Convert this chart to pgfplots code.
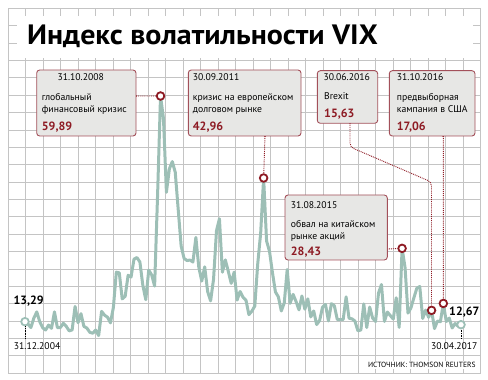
\documentclass[border=0pt]{standalone}
\usepackage{pgfplots}
\pgfplotsset{compat=1.18}
\usepackage{fontspec}
\setmainfont{PT Sans}
\definecolor{vix}{HTML}{9DBFB6}
\definecolor{dred}{HTML}{8E1B24}
\definecolor{bord}{HTML}{A3505A}
\definecolor{boxfill}{HTML}{E7E7E5}
\definecolor{gridc}{HTML}{C4C4C4}
\begin{document}
\begin{tikzpicture}[x=1pt,y=1pt]
\useasboundingbox (-8.3,-6.7) rectangle (479.7,373.3);
\begin{axis}[
  at={(0,0)}, anchor=south west,
  scale only axis, width=472.4pt, height=365pt,
  xmin=-5.669, xmax=154.684, ymin=2.635, ymax=77.998,
  xtick={-5.669,0.270,6.209,12.148,18.087,24.026,29.965,35.904,41.843,47.782,53.721,59.660,65.599,71.538,77.477,83.416,89.355,95.294,101.233,107.172,113.111,119.050,124.989,130.928,136.867,142.806,148.745,154.684},
  ytick={2.635,6.224,9.812,13.401,16.990,20.579,24.167,27.756,31.345,34.933,38.522,42.111,45.699,49.288,52.877,56.466,60.054,63.643,67.232,70.820,74.409,77.998},
  xticklabels={}, yticklabels={},
  major tick length=0pt,
  grid=major, major grid style={gridc, line width=0.9pt},
  axis line style={gridc, line width=0.9pt},
  clip=false,
]
\addplot[vix, line width=3pt, line join=round] table {
x y
0 13.29
1 12.82
2 12.08
3 14.02
4 15.31
5 13.29
6 12.04
7 11.57
8 12.60
9 11.92
10 15.32
11 12.06
12 12.07
13 12.95
14 12.34
15 11.39
16 11.59
17 16.44
18 13.08
19 14.95
20 12.31
21 11.98
22 11.10
23 10.91
24 11.56
25 10.42
26 15.42
27 14.64
28 14.22
29 13.05
30 16.23
31 23.52
32 23.38
33 18.00
34 18.53
35 22.87
36 22.50
37 26.20
38 26.54
39 25.61
40 20.79
41 17.83
42 23.95
43 22.94
44 20.65
45 39.39
46 59.89
47 55.28
48 40.00
49 44.84
50 46.35
51 44.14
52 36.50
53 28.92
54 26.35
55 25.92
56 26.01
57 25.61
58 30.69
59 24.51
60 21.68
61 24.62
62 19.50
63 17.59
64 22.05
65 32.07
66 34.54
67 23.50
68 26.05
69 23.70
70 21.20
71 23.54
72 17.75
73 19.53
74 18.35
75 17.74
76 14.75
77 15.45
78 16.52
79 25.25
80 31.62
81 42.96
82 29.96
83 27.80
84 23.40
85 19.44
86 18.43
87 15.50
88 17.15
89 24.06
90 17.08
91 18.93
92 17.47
93 15.73
94 18.60
95 15.87
96 18.02
97 14.28
98 15.51
99 12.70
100 13.52
101 16.30
102 16.86
103 13.45
104 17.01
105 16.60
106 13.75
107 13.70
108 13.72
109 18.41
110 14.00
111 13.88
112 13.41
113 11.40
114 11.57
115 16.95
116 12.09
117 16.31
118 14.03
119 13.33
120 19.20
121 20.97
122 13.34
123 15.29
124 14.55
125 13.84
126 18.23
127 12.12
128 28.43
129 24.50
130 15.07
131 16.13
132 18.21
133 20.20
134 20.55
135 13.95
136 15.70
137 14.19
138 15.63
139 11.87
140 13.42
141 13.29
142 17.06
143 13.33
144 14.04
145 11.99
146 12.92
147 12.37
148 12.67
};
\addplot[only marks, mark=*, mark size=3.8pt, mark options={draw=dred, fill=white, line width=1.8pt}] coordinates {(46,59.89) (81,42.96) (128,28.43) (138,15.63) (142,17.06)};
\addplot[only marks, mark=*, mark size=3.8pt, mark options={draw=vix, fill=white, line width=1.8pt}] coordinates {(0,13.29) (148,12.67)};
\coordinate (c1) at (axis cs:46,59.89);
\coordinate (c2) at (axis cs:81,42.96);
\coordinate (c5) at (axis cs:128,28.43);
\coordinate (c3) at (axis cs:138,15.63);
\coordinate (c4) at (axis cs:142,17.06);
\end{axis}
\begin{scope}[shift={(-8.3,373.3)}, x=1pt, y=-1pt, every node/.style={inner sep=0pt}]
% title
\fill[white] (17,16) rectangle (473,58);
\node[anchor=west, font=\fontsize{28}{28}\selectfont\bfseries] at (27,36) {\scalebox{1.07}[1]{Индекс волатильности VIX}};
% connectors
\draw[dred, line width=0.9pt, densely dotted, shorten >=4.7pt] (136,96) -- (c1);
\draw[dred, line width=0.9pt, densely dotted, shorten >=4.7pt] (265,136) -- (c2);
\draw[dred, line width=0.9pt, densely dotted, shorten >=4.7pt] (387.3,249) -- (c5);
\draw[dred, line width=0.9pt, densely dotted, rounded corners=4pt] (350,123.3) -- (350,147) -- (431.5,182) -- (431.5,305.5);
\draw[dred, line width=0.9pt, densely dotted, shorten >=4.7pt] (443.3,136) -- (c4);
\fill[dred] (136,96) circle (1.1) (265,136) circle (1.1) (387.3,249) circle (1.1) (350,123.3) circle (1.1) (443.3,136) circle (1.1);
% box 1
\draw[bord, fill=boxfill, rounded corners=3pt, line width=0.9pt] (36.7,70) rectangle (136,136);
\node[anchor=base west, font=\fontsize{9.7}{12}\selectfont] at (57.3,80.5) {31.10.2008};
\node[anchor=base west, font=\fontsize{9.7}{12}\selectfont] at (41.7,100.5) {глобальный};
\node[anchor=base west, font=\fontsize{9.7}{12}\selectfont] at (41.7,112.5) {финансовый кризис};
\node[anchor=base west, font=\fontsize{12}{12}\selectfont\bfseries, text=dred] at (41.7,130.5) {59,89};
% box 2
\draw[bord, fill=boxfill, rounded corners=3pt, line width=0.9pt] (188.3,70) rectangle (301,136);
\node[anchor=base west, font=\fontsize{9.7}{12}\selectfont] at (192.7,80.5) {30.09.2011};
\node[anchor=base west, font=\fontsize{9.7}{12}\selectfont] at (192.7,100.5) {кризис на европейском};
\node[anchor=base west, font=\fontsize{9.7}{12}\selectfont] at (192.7,112.5) {долговом рынке};
\node[anchor=base west, font=\fontsize{12}{12}\selectfont\bfseries, text=dred] at (192.7,130.5) {42,96};
% box 3
\draw[bord, fill=boxfill, rounded corners=3pt, line width=0.9pt] (317.3,70.7) rectangle (377.7,123.3);
\node[anchor=base west, font=\fontsize{9.7}{12}\selectfont] at (323.3,80.5) {30.06.2016};
\node[anchor=base west, font=\fontsize{9.7}{12}\selectfont] at (324,100) {Brexit};
\node[anchor=base west, font=\fontsize{12}{12}\selectfont\bfseries, text=dred] at (324,117.5) {15,63};
% box 4
\draw[bord, fill=boxfill, rounded corners=3pt, line width=0.9pt] (389.3,70.7) rectangle (475,136);
\node[anchor=base west, font=\fontsize{9.7}{12}\selectfont] at (396.7,80.5) {31.10.2016};
\node[anchor=base west, font=\fontsize{9.7}{12}\selectfont] at (396.7,100.5) {предвыборная};
\node[anchor=base west, font=\fontsize{9.7}{12}\selectfont] at (396.7,112.5) {кампания в США};
\node[anchor=base west, font=\fontsize{12}{12}\selectfont\bfseries, text=dred] at (396.7,130.5) {17,06};
% box 5
\draw[bord, fill=boxfill, rounded corners=3pt, line width=0.9pt] (285,195) rectangle (387.3,260);
\node[anchor=base west, font=\fontsize{9.7}{12}\selectfont] at (290.7,208.7) {31.08.2015};
\node[anchor=base west, font=\fontsize{9.7}{12}\selectfont] at (290.7,227.5) {обвал на китайском};
\node[anchor=base west, font=\fontsize{9.7}{12}\selectfont] at (290.7,239.7) {рынке акций};
\node[anchor=base west, font=\fontsize{12}{12}\selectfont\bfseries, text=dred] at (290.7,256) {28,43};
% start / end labels
\draw[black, line width=0.6pt, densely dotted] (25,326.5) -- (25,339);
\draw[black, line width=0.6pt, densely dotted] (461,329.8) -- (461,339);
\node[anchor=base west, font=\fontsize{12}{12}\selectfont\bfseries] at (13.3,305) {13,29};
\node[anchor=base west, font=\fontsize{9.7}{12}\selectfont] at (13.7,350) {31.12.2004};
\node[anchor=base west, font=\fontsize{12}{12}\selectfont\bfseries] at (449,315.3) {12,67};
\node[anchor=base east, font=\fontsize{9.7}{12}\selectfont] at (477.7,349.5) {30.04.2017};
\node[anchor=base east, fill=white, inner sep=1pt, font=\fontsize{7.5}{8}\selectfont] at (476.7,367.5) {ИСТОЧНИК: THOMSON REUTERS};
\end{scope}
\end{tikzpicture}
\end{document}
